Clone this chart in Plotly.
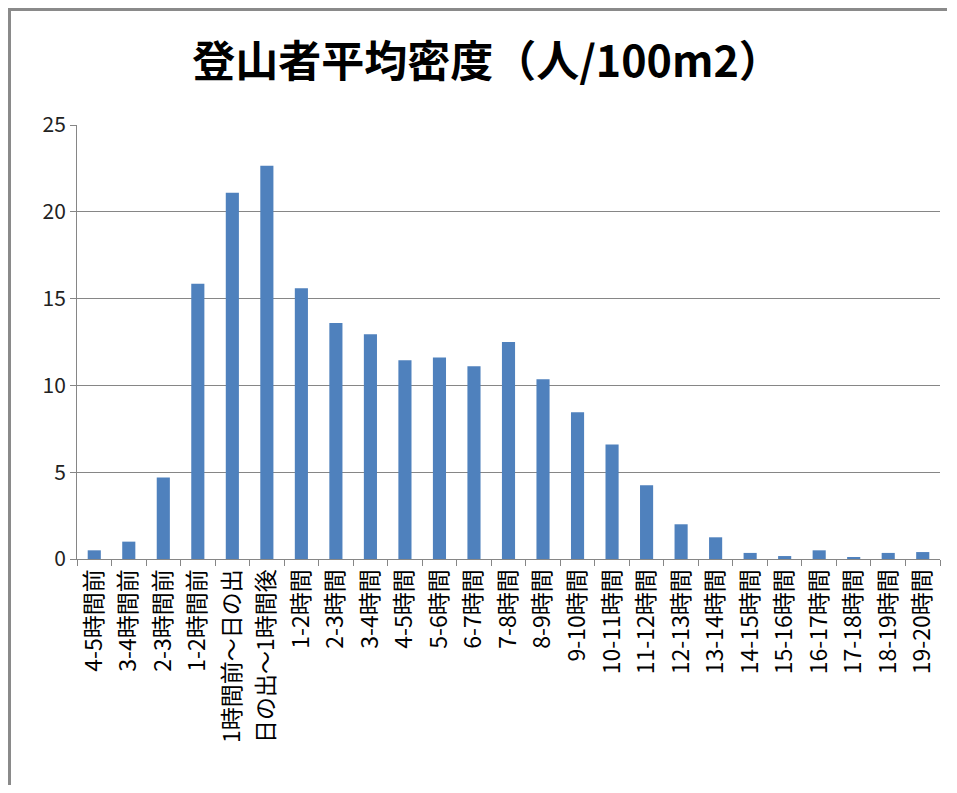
import plotly.graph_objects as go

# -- Daten ---------------------------------------------------------------------
categories = [
    "4-5時間前", "3-4時間前", "2-3時間前", "1-2時間前",
    "1時間前～日の出", "日の出～1時間後",
    "1-2時間", "2-3時間", "3-4時間", "4-5時間", "5-6時間", "6-7時間",
    "7-8時間", "8-9時間", "9-10時間", "10-11時間", "11-12時間", "12-13時間",
    "13-14時間", "14-15時間", "15-16時間", "16-17時間", "17-18時間",
    "18-19時間", "19-20時間",
]
density = [
    0.5, 1.0, 4.7, 15.85, 21.1, 22.65,
    15.6, 13.6, 12.95, 11.45, 11.6, 11.1,
    12.5, 10.35, 8.45, 6.6, 4.25, 2.0,
    1.25, 0.35, 0.17, 0.5, 0.08, 0.35, 0.4,
]
y_ticks = [0, 5, 10, 15, 20, 25]

FONT = "Noto Sans CJK JP"
GRAY = "#868686"

# -- Plot ----------------------------------------------------------------------
fig = go.Figure()
fig.add_trace(
    go.Bar(
        x=categories,
        y=density,
        marker=dict(color="#4f81bd", line=dict(width=0)),
        showlegend=False,
    )
)

# Seite hat 8px Body-Rand -> Figur kleiner als das Fenster (kein Scrollen)
W, H = 941, 777
L, R, T, B = 69, 9, 117, 226
pw, ph = W - L - R, H - T - B
def px_x(px):
    return (px - L) / pw
def px_y(py):
    return (H - B - py) / ph

# Rahmen links/oben wie im Original (Excel-Diagramm)
fig.add_shape(type="line", xref="paper", yref="paper",
              x0=px_x(1.5), x1=px_x(1.5), y0=px_y(0), y1=px_y(H),
              line=dict(color="#8a8a8a", width=3))
fig.add_shape(type="line", xref="paper", yref="paper",
              x0=px_x(0), x1=px_x(W - 2), y0=px_y(1.5), y1=px_y(1.5),
              line=dict(color="#8a8a8a", width=3))

fig.update_layout(
    width=W, height=H,
    margin=dict(l=L, r=R, t=T, b=B),
    paper_bgcolor="white",
    plot_bgcolor="white",
    bargap=0.62,
    font=dict(family=FONT, color="#000000"),
    title=dict(
        text="<b>登山者平均密度（人/100m2）</b>",
        x=479 / W, xref="container", xanchor="center",
        y=1 - 54 / H, yref="container", yanchor="middle",
        font=dict(size=43, family=FONT, color="#000000"),
    ),
)

fig.update_xaxes(
    type="category",
    tickangle=-90,
    tickfont=dict(size=23, family=FONT, color="#000000"),
    showline=True, linecolor=GRAY, linewidth=1,
    ticks="outside", ticklen=6, tickcolor=GRAY, tickson="boundaries",
    showgrid=False,
)
fig.update_yaxes(
    range=[0, 25],
    tickvals=y_ticks,
    tickfont=dict(size=21, family=FONT, color="#222222"),
    showline=True, linecolor=GRAY, linewidth=1,
    ticks="outside", ticklen=6, tickcolor=GRAY,
    showgrid=True, gridcolor=GRAY, gridwidth=1,
    zeroline=False,
)

fig.write_html("out.html")
